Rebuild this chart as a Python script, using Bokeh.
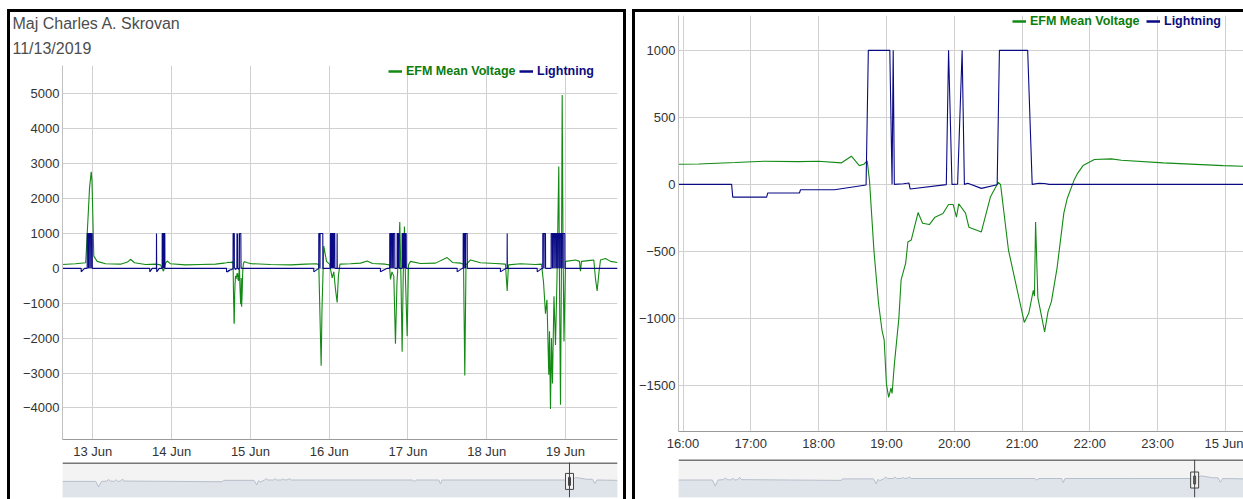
import pandas as pd
from bokeh.plotting import figure
from bokeh.layouts import row, column
from bokeh.models import (Range1d, FixedTicker, DatetimeTickFormatter, Legend, LegendItem,
                          Title, Span, Spacer)
from bokeh.embed import file_html
from bokeh.resources import INLINE

# ---------------- data ----------------
TITLE = "Maj Charles A. Skrovan"
SUBTITLE = "11/13/2019"
SERIES = ["EFM Mean Voltage", "Lightning"]

EFM_TIME = [
    "2019-06-12 14:35", "2019-06-12 18:44", "2019-06-12 21:50", "2019-06-12 22:05", "2019-06-12 23:00",
    "2019-06-12 23:31", "2019-06-12 23:45", "2019-06-13 00:18", "2019-06-13 01:20", "2019-06-13 03:52",
    "2019-06-13 08:27", "2019-06-13 10:34", "2019-06-13 11:28", "2019-06-13 12:42", "2019-06-13 16:03",
    "2019-06-13 19:06", "2019-06-13 20:37", "2019-06-13 21:32", "2019-06-13 22:09", "2019-06-13 22:40",
    "2019-06-13 23:40", "2019-06-14 04:14", "2019-06-14 08:48", "2019-06-14 13:22",
    # 14 Jun evening (detail)
    "2019-06-14 15:56", "2019-06-14 16:14", "2019-06-14 16:46", "2019-06-14 17:12", "2019-06-14 17:42",
    "2019-06-14 18:00", "2019-06-14 18:20", "2019-06-14 18:29", "2019-06-14 18:36", "2019-06-14 18:40",
    "2019-06-14 18:43", "2019-06-14 18:45", "2019-06-14 18:49", "2019-06-14 18:53", "2019-06-14 18:56",
    "2019-06-14 18:58", "2019-06-14 19:00", "2019-06-14 19:02", "2019-06-14 19:04", "2019-06-14 19:05",
    "2019-06-14 19:07", "2019-06-14 19:11", "2019-06-14 19:13", "2019-06-14 19:17", "2019-06-14 19:19",
    "2019-06-14 19:22", "2019-06-14 19:28", "2019-06-14 19:32", "2019-06-14 19:38", "2019-06-14 19:43",
    "2019-06-14 19:50", "2019-06-14 19:55", "2019-06-14 19:59", "2019-06-14 20:02", "2019-06-14 20:04",
    "2019-06-14 20:10", "2019-06-14 20:13", "2019-06-14 20:24", "2019-06-14 20:32", "2019-06-14 20:39",
    "2019-06-14 20:41", "2019-06-14 20:48", "2019-06-14 21:02", "2019-06-14 21:06", "2019-06-14 21:10",
    "2019-06-14 21:11", "2019-06-14 21:12", "2019-06-14 21:14", "2019-06-14 21:20", "2019-06-14 21:23",
    "2019-06-14 21:26", "2019-06-14 21:31", "2019-06-14 21:37", "2019-06-14 21:40", "2019-06-14 21:46",
    "2019-06-14 21:49", "2019-06-14 21:54", "2019-06-14 22:04", "2019-06-14 22:19", "2019-06-14 22:28",
    "2019-06-14 23:05", "2019-06-14 23:58", "2019-06-15 00:16",
    # 15 Jun onwards
    "2019-06-15 06:10", "2019-06-15 12:15", "2019-06-15 16:50", "2019-06-15 20:10", "2019-06-15 20:50",
    "2019-06-15 21:33", "2019-06-15 21:48", "2019-06-15 22:21", "2019-06-15 23:11", "2019-06-16 00:06",
    "2019-06-16 00:55", "2019-06-16 01:24", "2019-06-16 01:55", "2019-06-16 02:25", "2019-06-16 02:49",
    "2019-06-16 03:17", "2019-06-16 06:29", "2019-06-16 09:32", "2019-06-16 11:34", "2019-06-16 13:11",
    "2019-06-16 17:08", "2019-06-16 18:22", "2019-06-16 18:40", "2019-06-16 19:07", "2019-06-16 19:41",
    "2019-06-16 20:11", "2019-06-16 20:39", "2019-06-16 21:06", "2019-06-16 21:30", "2019-06-16 21:52",
    "2019-06-16 22:13", "2019-06-16 22:33", "2019-06-16 22:55", "2019-06-16 23:14", "2019-06-16 23:45",
    "2019-06-17 00:09", "2019-06-17 00:46", "2019-06-17 03:49", "2019-06-17 08:23", "2019-06-17 11:56",
    "2019-06-17 13:33", "2019-06-17 15:59", "2019-06-17 16:55", "2019-06-17 17:18", "2019-06-17 17:40",
    "2019-06-17 19:02", "2019-06-17 22:05", "2019-06-18 02:38", "2019-06-18 05:41", "2019-06-18 06:13",
    "2019-06-18 06:36", "2019-06-18 10:16", "2019-06-18 14:50", "2019-06-18 16:40", "2019-06-18 17:17",
    "2019-06-18 17:53", "2019-06-18 18:20", "2019-06-18 18:53", "2019-06-18 19:06", "2019-06-18 19:24",
    "2019-06-18 19:42", "2019-06-18 20:00", "2019-06-18 20:28", "2019-06-18 20:56", "2019-06-18 21:23",
    "2019-06-18 21:56", "2019-06-18 22:09", "2019-06-18 22:27", "2019-06-18 22:45", "2019-06-18 22:58",
    "2019-06-18 23:13", "2019-06-18 23:31", "2019-06-18 23:59", "2019-06-19 03:01", "2019-06-19 04:14",
    "2019-06-19 04:32", "2019-06-19 04:51", "2019-06-19 07:35", "2019-06-19 08:36", "2019-06-19 09:07",
    "2019-06-19 09:37", "2019-06-19 10:11", "2019-06-19 10:38", "2019-06-19 12:09", "2019-06-19 13:41",
    "2019-06-19 15:50",
]
EFM_MV = [
    110, 130, 160, 600, 2300,
    2770, 2500, 350, 200, 130,
    120, 180, 260, 160, 110,
    120, 100, -80, 150, 210,
    130, 100, 110, 120,
    150, 152, 163, 173, 170,
    172, 160, 210, 140, 150,
    175, 30, -500, -885, -1085,
    -1160, -1490, -1590, -1520, -1560,
    -1345, -1000, -713, -590, -430,
    -415, -210, -290, -300, -245,
    -218, -150, -150, -245, -145,
    -215, -320, -355, -95, 15,
    0, -490, -1030, -960, -790,
    -835, -280, -845, -1100, -950,
    -875, -625, -215, -105, 30,
    80, 140, 185, 190, 180,
    160, 140, 135,
    110, 100, 120, 130, 100,
    -2790, -1200, 640, 200, 120,
    -270, -100, -600, -980, -200,
    120, 130, 150, 210, 140,
    120, 100, -320, -100, -230,
    -2160, -400, 300, 1330, -300,
    -2390, -200, 1200, -300, -1940,
    100, 200, 140, 150, 310,
    170, 150, 120, -3070, 100,
    240, 160, 140, 120, -650,
    100, 130, 110, 120, -400,
    -1300, -900, -3050, -1800, -4030,
    -2000, -3300, -800, -2200, -300,
    2920, -500, -3910, 200, 4970,
    800, -2100, 200, 240, 200,
    -80, 200, 230, 240, -300,
    -650, -100, 240, 280, 200,
    170,
]

LIGHTNING_TIME = [
    "2019-06-12 14:35", "2019-06-12 20:27", "2019-06-12 20:28", "2019-06-12 21:29", "2019-06-12 22:17",
    "2019-06-12 22:18", "2019-06-12 22:38", "2019-06-12 22:40", "2019-06-12 22:42", "2019-06-12 23:02",
    "2019-06-12 23:04", "2019-06-12 23:06", "2019-06-12 23:26", "2019-06-12 23:28", "2019-06-12 23:30",
    "2019-06-12 23:49", "2019-06-12 23:51",
    "2019-06-13 17:20", "2019-06-13 17:21", "2019-06-13 18:06", "2019-06-13 19:22", "2019-06-13 19:24",
    "2019-06-13 19:27", "2019-06-13 19:28", "2019-06-13 20:14", "2019-06-13 21:07", "2019-06-13 21:08",
    "2019-06-13 21:22", "2019-06-13 21:24", "2019-06-13 21:26", "2019-06-13 21:40", "2019-06-13 21:42",
    "2019-06-13 21:44", "2019-06-13 21:56", "2019-06-13 21:58",
    "2019-06-14 16:43", "2019-06-14 16:44", "2019-06-14 17:14", "2019-06-14 17:15", "2019-06-14 17:43",
    "2019-06-14 17:44", "2019-06-14 18:14", "2019-06-14 18:42", "2019-06-14 18:44", "2019-06-14 19:03",
    "2019-06-14 19:05", "2019-06-14 19:06", "2019-06-14 19:07", "2019-06-14 19:15", "2019-06-14 19:20",
    "2019-06-14 19:21", "2019-06-14 19:53", "2019-06-14 19:55", "2019-06-14 19:58", "2019-06-14 20:03",
    "2019-06-14 20:07", "2019-06-14 20:09", "2019-06-14 20:12", "2019-06-14 20:24", "2019-06-14 20:38",
    "2019-06-14 20:40", "2019-06-14 21:05", "2019-06-14 21:09", "2019-06-14 21:15", "2019-06-14 21:20",
    "2019-06-14 21:24",
    "2019-06-15 19:18", "2019-06-15 19:19", "2019-06-15 20:48", "2019-06-15 20:50", "2019-06-15 21:10",
    "2019-06-15 21:12", "2019-06-15 21:14", "2019-06-15 22:03", "2019-06-15 22:05",
    "2019-06-16 00:22", "2019-06-16 00:23", "2019-06-16 00:40", "2019-06-16 00:42", "2019-06-16 00:44",
    "2019-06-16 01:00", "2019-06-16 01:02", "2019-06-16 01:04", "2019-06-16 01:20", "2019-06-16 01:22",
    "2019-06-16 01:24", "2019-06-16 01:42", "2019-06-16 01:44", "2019-06-16 02:23", "2019-06-16 02:25",
    "2019-06-16 02:27",
    "2019-06-16 15:36", "2019-06-16 15:37", "2019-06-16 17:40", "2019-06-16 18:26", "2019-06-16 18:27",
    "2019-06-16 18:45", "2019-06-16 18:47", "2019-06-16 18:49", "2019-06-16 19:08", "2019-06-16 19:10",
    "2019-06-16 19:12", "2019-06-16 19:30", "2019-06-16 19:32", "2019-06-16 19:34", "2019-06-16 19:58",
    "2019-06-16 20:00", "2019-06-16 20:42", "2019-06-16 20:43", "2019-06-16 21:00", "2019-06-16 21:02",
    "2019-06-16 21:04", "2019-06-16 21:19", "2019-06-16 21:21", "2019-06-16 22:12", "2019-06-16 22:13",
    "2019-06-16 22:30", "2019-06-16 22:32", "2019-06-16 22:34", "2019-06-16 22:50", "2019-06-16 22:52",
    "2019-06-16 22:54", "2019-06-16 23:10", "2019-06-16 23:12", "2019-06-16 23:14", "2019-06-16 23:27",
    "2019-06-16 23:29",
    "2019-06-17 14:58", "2019-06-17 14:59", "2019-06-17 16:30", "2019-06-17 16:48", "2019-06-17 16:49",
    "2019-06-17 17:07", "2019-06-17 17:09", "2019-06-17 17:11", "2019-06-17 17:30", "2019-06-17 17:32",
    "2019-06-17 17:34", "2019-06-17 18:02", "2019-06-17 18:04",
    "2019-06-18 04:09", "2019-06-18 04:10", "2019-06-18 05:50", "2019-06-18 06:11", "2019-06-18 06:13",
    "2019-06-18 06:16", "2019-06-18 15:21", "2019-06-18 15:22", "2019-06-18 16:50", "2019-06-18 17:03",
    "2019-06-18 17:04", "2019-06-18 17:25", "2019-06-18 17:27", "2019-06-18 17:29", "2019-06-18 17:53",
    "2019-06-18 17:55", "2019-06-18 19:36", "2019-06-18 19:37", "2019-06-18 19:58", "2019-06-18 20:00",
    "2019-06-18 20:02", "2019-06-18 20:22", "2019-06-18 20:24", "2019-06-18 20:26", "2019-06-18 20:46",
    "2019-06-18 20:48", "2019-06-18 20:50", "2019-06-18 21:10", "2019-06-18 21:12", "2019-06-18 21:14",
    "2019-06-18 21:34", "2019-06-18 21:36", "2019-06-18 21:38", "2019-06-18 21:58", "2019-06-18 22:00",
    "2019-06-18 22:02", "2019-06-18 22:22", "2019-06-18 22:24", "2019-06-18 22:26", "2019-06-18 22:46",
    "2019-06-18 22:48", "2019-06-18 22:50", "2019-06-18 23:10", "2019-06-18 23:12", "2019-06-18 23:14",
    "2019-06-18 23:46", "2019-06-18 23:48",
    "2019-06-19 15:50",
]
LIGHTNING = [
    0, 0, -100, 0, 0,
    1000, 1000, 0, 1000, 1000,
    0, 1000, 1000, 0, 1000,
    1000, 0,
    0, -100, 0, 0, 1000,
    0, -100, 0, 0, 1000,
    1000, 0, 1000, 1000, 0,
    1000, 1000, 0,
    0, -95, -95, -64, -64,
    -40, -40, -5, 1000, 1000,
    0, 1000, 0, 5, 10,
    -35, -2, 1000, 0, 2,
    1000, 0, 8, -30, -3,
    1000, 1000, 0, 8, 6,
    0,
    0, -100, 0, 1000, 1000,
    0, 1000, 1000, 0,
    0, 1000, 1000, 0, 1000,
    1000, 0, 1000, 1000, 0,
    1000, 1000, 0, 0, 1000,
    0,
    0, -100, 0, 0, 1000,
    1000, 0, 1000, 1000, 0,
    1000, 1000, 0, 1000, 1000,
    0, 0, 1000, 1000, 0,
    1000, 1000, 0, 0, 1000,
    1000, 0, 1000, 1000, 0,
    1000, 1000, 0, 1000, 1000,
    0,
    0, -100, 0, 0, 1000,
    1000, 0, 1000, 1000, 0,
    1000, 1000, 0,
    0, -100, 0, 0, 1000,
    0, 0, -100, 0, 0,
    1000, 1000, 0, 1000, 1000,
    0, 0, 1000, 1000, 0,
    1000, 1000, 0, 1000, 1000,
    0, 1000, 1000, 0, 1000,
    1000, 0, 1000, 1000, 0,
    1000, 1000, 0, 1000, 1000,
    0, 1000, 1000, 0, 1000,
    1000, 0,
    0,
]
assert len(EFM_TIME) == len(EFM_MV)
assert len(LIGHTNING_TIME) == len(LIGHTNING)

LEFT_VIEW = ["2019-06-12 14:46", "2019-06-19 15:49"]
LEFT_TICKS = ["2019-06-13", "2019-06-14", "2019-06-15", "2019-06-16", "2019-06-17", "2019-06-18", "2019-06-19"]
LEFT_TICK_LABELS = ["13 Jun", "14 Jun", "15 Jun", "16 Jun", "17 Jun", "18 Jun", "19 Jun"]
LEFT_Y_VIEW = [-4906, 5815]
LEFT_Y_TICKS = [-4000, -3000, -2000, -1000, 0, 1000, 2000, 3000, 4000, 5000]

RIGHT_VIEW = ["2019-06-14 15:56", "2019-06-15 00:16"]
RIGHT_TICKS = ["2019-06-14 16:00", "2019-06-14 17:00", "2019-06-14 18:00", "2019-06-14 19:00",
               "2019-06-14 20:00", "2019-06-14 21:00", "2019-06-14 22:00", "2019-06-14 23:00",
               "2019-06-15 00:00"]
RIGHT_TICK_LABELS = ["16:00", "17:00", "18:00", "19:00", "20:00", "21:00", "22:00", "23:00", "15 Jun"]
RIGHT_Y_VIEW = [-1844, 1260]
RIGHT_Y_TICKS = [-1500, -1000, -500, 0, 500, 1000]

# navigator overview series (percent of navigator width, relative level)
NAV_POS = [0, 6.0, 6.5, 7.0, 8.0, 8.3, 8.6, 9.3, 9.6, 9.9, 10.5, 10.8, 11.1, 20, 28.8, 29.0, 34.5,
           35.0, 35.3, 35.6, 36.4, 36.7, 37.0, 38.0, 38.3, 38.6, 39.4, 39.7, 40.0, 40.6, 40.9, 41.2,
           50, 63.0, 63.4, 63.8, 67.8, 68.1, 68.4, 80, 91.4, 92.5, 94.5, 95.5, 95.9, 96.3, 100]
NAV_LEVEL = [46, 46, 30, 46, 47, 52, 47, 46, 51, 46, 47, 53, 47, 46, 45, 49, 49,
             36, 48, 44, 50, 54, 50, 50, 54, 50, 50, 53, 50, 51, 54, 50,
             50, 50, 46, 50, 50, 39, 50, 50, 50, 57, 52, 52, 40, 50, 49]
NAV_HANDLE = 91.35

# ---------------- style ----------------
FONT = "Liberation Sans"
GREEN = "#138a13"
NAVY = "#0a0a85"
GREEN_TXT = "#0c7c0c"
NAVY_TXT = "#0b0b7e"
GRID = "#d0d0d0"


def ms(lst):
    return [float(v) for v in pd.to_datetime(lst).values.astype("datetime64[ms]").astype("int64")]


E_X = ms(EFM_TIME)
L_X = ms(LIGHTNING_TIME)


def main_fig(width, height, mbl, mbr, mbt, mbb, xview, yview, xticks, xlabels, yticks, fmt, leg_pos):
    xv = ms(xview)
    p = figure(width=width, height=height, x_axis_type="datetime",
               x_range=Range1d(xv[0], xv[1]), y_range=Range1d(yview[0], yview[1]),
               toolbar_location=None, output_backend="svg",
               min_border_left=mbl, min_border_right=mbr, min_border_top=mbt, min_border_bottom=mbb,
               outline_line_color=None, background_fill_color="white", border_fill_color="white")
    xt = ms(xticks)
    p.xaxis.ticker = FixedTicker(ticks=xt)
    p.xgrid.ticker = FixedTicker(ticks=xt)
    p.xaxis.formatter = fmt
    p.xaxis.major_label_overrides = {t: lab for t, lab in zip(xt, xlabels)}
    p.yaxis.ticker = FixedTicker(ticks=yticks)
    p.ygrid.ticker = FixedTicker(ticks=yticks)
    for ax in (p.xaxis, p.yaxis):
        ax.major_tick_line_color = None
        ax.minor_tick_line_color = None
        ax.major_tick_out = 0
        ax.major_tick_in = 0
        ax.minor_tick_out = 0
        ax.major_label_text_font = FONT
        ax.major_label_text_font_size = "13px"
        ax.major_label_text_color = "#333333"
        ax.major_label_standoff = 4
    p.yaxis.major_label_standoff = 3
    p.xaxis.axis_line_color = "#9a9a9a"
    p.yaxis.axis_line_color = "#c0c0c0"
    p.xgrid.grid_line_color = GRID
    p.ygrid.grid_line_color = GRID

    p.line(x=E_X, y=EFM_MV, line_color=GREEN, line_width=1.1)
    p.line(x=L_X, y=LIGHTNING, line_color=NAVY, line_width=1.1)

    # hidden twins used only for the (thicker) legend swatches
    g_leg = p.line(x=E_X, y=EFM_MV, line_color=GREEN, line_width=2.5, visible=False)
    b_leg = p.line(x=L_X, y=LIGHTNING, line_color=NAVY, line_width=2.5, visible=False)
    for rend, lab, col, pos in ((g_leg, SERIES[0], GREEN_TXT, leg_pos[0]),
                                (b_leg, SERIES[1], NAVY_TXT, leg_pos[1])):
        leg = Legend(items=[LegendItem(label=lab, renderers=[rend])], location=pos,
                     orientation="horizontal", padding=0, margin=0, spacing=0,
                     glyph_width=14, glyph_height=14, label_height=14, label_standoff=4,
                     border_line_color=None, background_fill_alpha=0,
                     inactive_fill_alpha=0,
                     label_text_font=FONT, label_text_font_style="bold",
                     label_text_font_size="12.5px", label_text_color=col)
        p.add_layout(leg)
    return p


def nav_fig(width, height, mbl, mbr, mbt):
    n = figure(width=width, height=height, x_range=Range1d(0, 100), y_range=Range1d(0, 100),
               toolbar_location=None, output_backend="svg",
               min_border_left=mbl, min_border_right=mbr, min_border_top=mbt, min_border_bottom=2,
               x_axis_location=None, y_axis_location=None, outline_line_color=None,
               background_fill_color="#f3f3f3", border_fill_color="white")
    n.grid.visible = False
    n.varea(x=NAV_POS, y1=[0] * len(NAV_POS), y2=NAV_LEVEL, fill_color="#dfe3ea")
    n.line(x=NAV_POS, y=NAV_LEVEL, line_color="#b7bfcc", line_width=1)
    n.add_layout(Span(location=98.5, dimension="width", line_color="#777777", line_width=2))
    n.add_layout(Span(location=NAV_HANDLE, dimension="height", line_color="#444444", line_width=1))
    n.rect(x=[NAV_HANDLE], y=[46], width=8, height=16, width_units="screen", height_units="screen",
           fill_color="#f2f2f2", line_color="#444444", line_width=1)
    n.rect(x=[NAV_HANDLE], y=[46], width=2, height=8, width_units="screen", height_units="screen",
           fill_color=None, line_color="#444444", line_width=1)
    return n


left_fmt = DatetimeTickFormatter(days="%d %b", months="%d %b", hours="%d %b", hourmin="%d %b")
right_fmt = DatetimeTickFormatter(hours="%H:%M", hourmin="%H:%M", minutes="%H:%M", days="%d %b")

# left panel: figure x 10..623, frame 62..617 ; y 12..461, frame 65..440
left_main = main_fig(613, 449, 52, 6, 53, 21, LEFT_VIEW, LEFT_Y_VIEW, LEFT_TICKS, LEFT_TICK_LABELS,
                     LEFT_Y_TICKS, left_fmt, [(326, 361), (457, 361)])
# first added sits closest to the frame
left_main.add_layout(Title(text=SUBTITLE, align="left", offset=-50, standoff=13, vertical_align="top",
                           text_font=FONT, text_font_size="16px", text_font_style="normal",
                           text_color="#4d4d4d"), "above")
left_main.add_layout(Title(text=TITLE, align="left", offset=-50, standoff=0, vertical_align="top",
                           text_font=FONT, text_font_size="16px", text_font_style="normal",
                           text_color="#4d4d4d"), "above")
left_nav = nav_fig(613, 38, 52, 6, 1)

# right panel: figure x 635..1243, frame 676..1243 ; y 12..453, frame 15..433
right_main = main_fig(608, 441, 41, 0, 3, 20, RIGHT_VIEW, RIGHT_Y_VIEW, RIGHT_TICKS, RIGHT_TICK_LABELS,
                      RIGHT_Y_TICKS, right_fmt, [(334, 403), (468, 403)])
right_nav = nav_fig(608, 46, 41, 0, 6)


def bar(w, h):
    return Spacer(width=w, height=h, styles={"background-color": "black"})


left_panel = column([Spacer(width=619, height=9), bar(619, 3),
                     row([bar(3, 487), column([left_main, left_nav], spacing=0), bar(3, 487)], spacing=0)],
                    spacing=0)
right_panel = column([Spacer(width=611, height=9), bar(611, 3),
                      row([bar(3, 487), column([right_main, right_nav], spacing=0)], spacing=0)],
                     spacing=0)
layout = row([Spacer(width=7, height=499), left_panel, Spacer(width=6, height=499), right_panel], spacing=0)

open("out.html", "w").write(file_html(layout, INLINE))
